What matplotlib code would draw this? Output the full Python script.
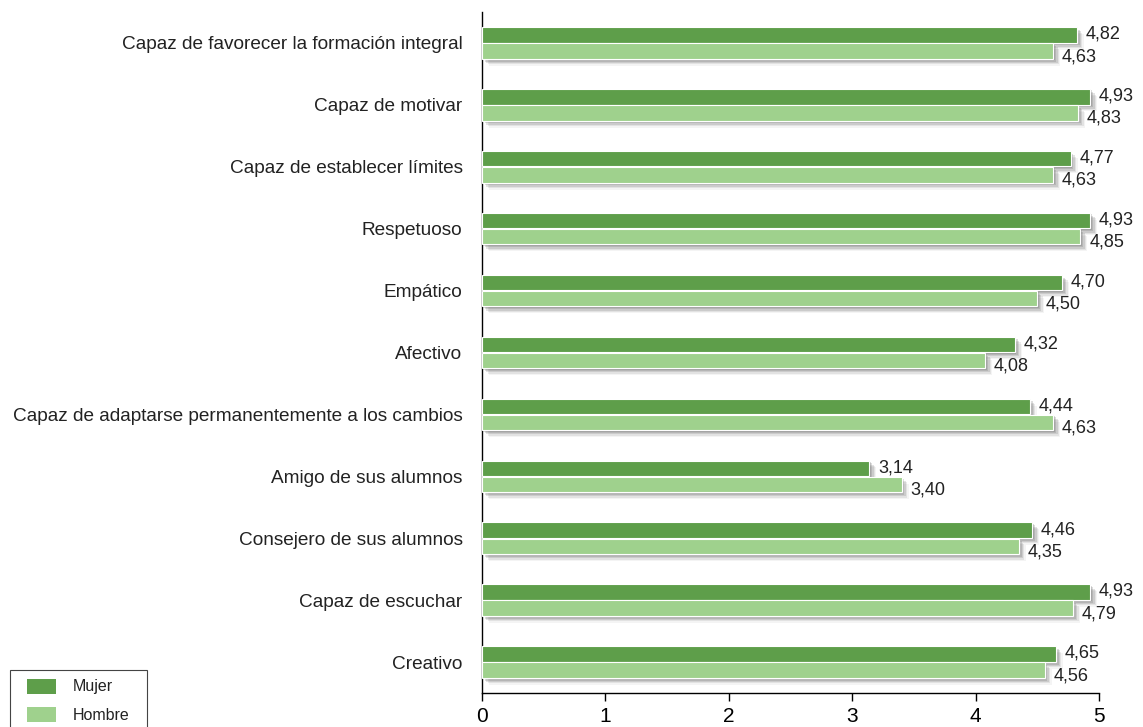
import numpy as np
import matplotlib.pyplot as plt
import matplotlib.patheffects as pe
from matplotlib.patches import Rectangle

plt.rcParams['font.family'] = ['Liberation Sans', 'DejaVu Sans']

categorias = ['Capaz de favorecer la formación integral', 'Capaz de motivar',
              'Capaz de establecer límites', 'Respetuoso', 'Empático', 'Afectivo',
              'Capaz de adaptarse permanentemente a los cambios', 'Amigo de sus alumnos',
              'Consejero de sus alumnos', 'Capaz de escuchar', 'Creativo']
mujer = [4.82, 4.93, 4.77, 4.93, 4.70, 4.32, 4.44, 3.14, 4.46, 4.93, 4.65]
hombre = [4.63, 4.83, 4.63, 4.85, 4.50, 4.08, 4.63, 3.40, 4.35, 4.79, 4.56]
series = ['Mujer', 'Hombre']
colores = ['#5e9e4a', '#9fd18d']

W, H = 1143, 727
fig = plt.figure(figsize=(W / 100, H / 100), dpi=100)
ax = fig.add_axes([482 / W, 34 / H, 617 / W, 681 / H])

n = len(categorias)
y = np.arange(n)[::-1]
h = 0.25
# sombra difusa: varias capas desplazadas
sombra = [pe.SimplePatchShadow(offset=(k, -k), shadow_rgbFace='#666666', alpha=a)
          for k, a in ((1, 0.25), (2, 0.22), (3, 0.18), (4, 0.12), (5, 0.07))]
sombra.append(pe.Normal())

b1 = ax.barh(y + 0.13, mujer, height=h, color=colores[0], edgecolor='white', linewidth=0.8, zorder=3)
b2 = ax.barh(y - 0.13, hombre, height=h, color=colores[1], edgecolor='white', linewidth=0.8, zorder=3)
for b in list(b1) + list(b2):
    b.set_path_effects(sombra)

for yi, m, hv in zip(y, mujer, hombre):
    ax.text(m + 0.07, yi + 0.14, f'{m:.2f}'.replace('.', ','), va='center', ha='left', fontsize=13, color='#222222')
    ax.text(hv + 0.07, yi - 0.22, f'{hv:.2f}'.replace('.', ','), va='center', ha='left', fontsize=13, color='#222222')

ax.set_xlim(0, 5)
ax.set_ylim(-0.5, 10.5)
ax.set_yticks(y)
ax.set_yticklabels(categorias, fontsize=13.7, color='#222222')
ax.tick_params(axis='y', length=0, pad=14)
ax.set_xticks(range(6))
ax.tick_params(axis='x', length=6, width=1, pad=4, labelsize=15)
for s in ['top', 'right']:
    ax.spines[s].set_visible(False)
ax.spines['left'].set_linewidth(1)
ax.spines['bottom'].set_linewidth(1)

# leyenda dibujada a mano (recortada por el borde inferior)
px = lambda x0, y0: (x0 / W, 1 - y0 / H)
fig.patches.append(Rectangle(px(10, 740), 137 / W, 70 / H, transform=fig.transFigure,
                             facecolor='white', edgecolor='#444444', linewidth=0.8))
for i, (s, c) in enumerate(zip(series, colores)):
    top = 679 + 28 * i
    fig.patches.append(Rectangle(px(27, top + 15), 29 / W, 15 / H, transform=fig.transFigure,
                                 facecolor=c, edgecolor='none'))
    fig.text(*px(73, top + 8), s, fontsize=11.5, va='center', ha='left', color='#222222')

fig.savefig('out.png', dpi=100)
